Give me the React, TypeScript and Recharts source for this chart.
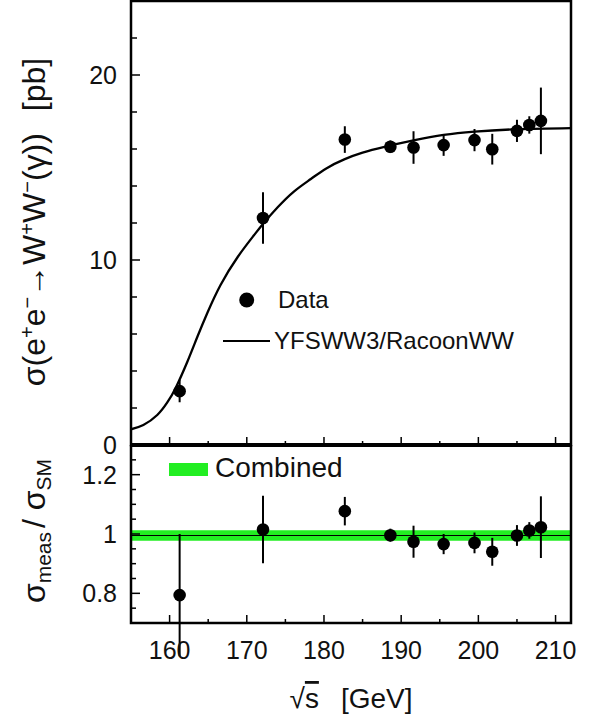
import React from "react";
import {
  ComposedChart,
  Line,
  Scatter,
  ErrorBar,
  XAxis,
  YAxis,
  ReferenceArea,
  ReferenceLine,
} from "recharts";

// measured points: sqrt(s) [GeV], sigma [pb], ratio to SM
const energies = [161.3, 172.1, 182.7, 188.6, 191.6, 195.5, 199.5, 201.8, 205.0, 206.6, 208.1];
const sigmaMeas = [2.91, 12.27, 16.51, 16.12, 16.08, 16.21, 16.48, 15.99, 16.98, 17.3, 17.52];
const sigmaErr = [0.6, 1.39, 0.72, 0.34, 0.88, 0.58, 0.6, 0.83, 0.6, 0.47, 1.8];
const ratioMeas = [0.794, 1.015, 1.077, 0.996, 0.974, 0.966, 0.97, 0.94, 0.995, 1.012, 1.023];
const ratioErr = [0.206, 0.114, 0.048, 0.022, 0.054, 0.034, 0.035, 0.047, 0.035, 0.028, 0.104];

// YFSWW3 / RacoonWW prediction
const curveEnergy = [155, 156.6, 158.4, 159.7, 160.8, 162.3, 163.6, 164.9, 166.6, 168.8, 170.9, 172.2, 174.0, 176.1, 178.3, 180.3, 182.7, 185.0, 187.7, 191.6, 195.5, 199.5, 205.0, 212];
const curveSigma = [0.85, 1.08, 1.62, 2.3, 3.1, 4.5, 5.85, 7.15, 8.65, 10.15, 11.32, 12.0, 12.85, 13.7, 14.38, 14.95, 15.45, 15.8, 16.1, 16.46, 16.76, 16.94, 17.07, 17.13];

// combined ratio band
const combined = 0.995;
const combinedErr = 0.018;

const xDomain: [number, number] = [155, 212];
const upperDomain: [number, number] = [0, 24];
const lowerDomain: [number, number] = [0.7, 1.3];
const xTicks = [155, 160, 165, 170, 175, 180, 185, 190, 195, 200, 205, 210];
const upperTicks = [0, 2, 4, 6, 8, 10, 12, 14, 16, 18, 20, 22];
const lowerTicks = [0.75, 0.8, 0.85, 0.9, 0.95, 1.0, 1.05, 1.1, 1.15, 1.2, 1.25];
const lowerLabels = [0.8, 1.0, 1.2];

const FONT = "'Liberation Sans', Arial, Helvetica, sans-serif";
const INK = "#111";

const upperPoints = energies.map((x, i) => ({ x, y: sigmaMeas[i], err: sigmaErr[i] }));
const lowerPoints = energies.map((x, i) => ({ x, y: ratioMeas[i], err: ratioErr[i] }));
const curve = curveEnergy.map((x, i) => ({ x, y: curveSigma[i] }));

const dot = (p: any) => <circle cx={p.cx} cy={p.cy} r={6.3} fill="#000" />;

function UpperXTick({ x, y, payload }: any) {
  const major = payload.value % 10 === 0;
  return <line x1={x} x2={x} y1={y} y2={y - (major ? 8 : 4)} stroke="#000" strokeWidth={1.5} />;
}

function LowerXTick({ x, y, payload }: any) {
  const major = payload.value % 10 === 0;
  return (
    <g>
      <line x1={x} x2={x} y1={y} y2={y - (major ? 8 : 4)} stroke="#000" strokeWidth={1.5} />
      {major && (
        <text x={x} y={y + 36} textAnchor="middle" fontSize={25} fontFamily={FONT} fill={INK}>
          {payload.value}
        </text>
      )}
    </g>
  );
}

function UpperYTick({ x, y, payload }: any) {
  const major = payload.value % 10 === 0;
  return (
    <g>
      <line x1={x} x2={x + (major ? 9 : 6)} y1={y} y2={y} stroke="#000" strokeWidth={1.5} />
      {major && (
        <text x={x - 14} y={y + 9} textAnchor="end" fontSize={25} fontFamily={FONT} fill={INK}>
          {payload.value}
        </text>
      )}
    </g>
  );
}

function LowerYTick({ x, y, payload }: any) {
  const major = lowerLabels.some((v) => Math.abs(v - payload.value) < 1e-6);
  return (
    <g>
      <line x1={x} x2={x + (major ? 9 : 5)} y1={y} y2={y} stroke="#000" strokeWidth={1.5} />
      {major && (
        <text x={x - 14} y={y + 9} textAnchor="end" fontSize={25} fontFamily={FONT} fill={INK}>
          {Number(payload.value.toFixed(2)).toString()}
        </text>
      )}
    </g>
  );
}

export default function App() {
  return (
    <div
      style={{
        position: "absolute",
        left: 0,
        top: 0,
        width: 603,
        height: 715,
        background: "#fff",
        fontFamily: FONT,
      }}
    >
      {/* cross section */}
      <div style={{ position: "absolute", left: 0, top: 0 }}>
        <ComposedChart width={603} height={460} margin={{ top: 1, right: 32, bottom: 14, left: 0 }}>
          <XAxis
            dataKey="x"
            type="number"
            domain={xDomain}
            ticks={xTicks}
            interval={0}
            allowDataOverflow
            height={1}
            tickSize={0}
            tickMargin={0}
            axisLine={{ stroke: "#000", strokeWidth: 4 }}
            tick={(p: any) => <UpperXTick {...p} />}
          />
          <YAxis
            type="number"
            domain={upperDomain}
            ticks={upperTicks}
            interval={0}
            allowDataOverflow
            width={131}
            tickSize={0}
            tickMargin={0}
            axisLine={false}
            tick={(p: any) => <UpperYTick {...p} />}
          />
          <ReferenceArea
            x1={xDomain[0]}
            x2={xDomain[1]}
            y1={upperDomain[0]}
            y2={upperDomain[1]}
            fill="none"
            stroke="#000"
            strokeWidth={2.5}
          />
          <Line
            data={curve}
            dataKey="y"
            type="natural"
            dot={false}
            stroke="#000"
            strokeWidth={2.3}
            isAnimationActive={false}
          />
          <Scatter data={upperPoints} dataKey="y" shape={dot} isAnimationActive={false}>
            <ErrorBar dataKey="err" direction="y" width={0} stroke="#000" strokeWidth={2} isAnimationActive={false} />
          </Scatter>
        </ComposedChart>
      </div>

      {/* ratio */}
      <div style={{ position: "absolute", left: 0, top: 445 }}>
        <ComposedChart width={603} height={270} margin={{ top: 0, right: 32, bottom: 0, left: 0 }}>
          <XAxis
            dataKey="x"
            type="number"
            domain={xDomain}
            ticks={xTicks}
            interval={0}
            allowDataOverflow
            height={92}
            tickSize={0}
            tickMargin={0}
            axisLine={false}
            tick={(p: any) => <LowerXTick {...p} />}
          />
          <YAxis
            type="number"
            domain={lowerDomain}
            ticks={lowerTicks}
            interval={0}
            allowDataOverflow
            width={131}
            tickSize={0}
            tickMargin={0}
            axisLine={false}
            tick={(p: any) => <LowerYTick {...p} />}
          />
          <ReferenceArea
            x1={xDomain[0]}
            x2={xDomain[1]}
            y1={combined - combinedErr}
            y2={combined + combinedErr}
            fill="#22ee22"
            fillOpacity={1}
            stroke="none"
          />
          <ReferenceLine y={combined} stroke="#000" strokeWidth={1.2} />
          <ReferenceArea
            x1={xDomain[0]}
            x2={xDomain[1]}
            y1={lowerDomain[0]}
            y2={lowerDomain[1]}
            fill="none"
            stroke="#000"
            strokeWidth={2.5}
          />
          <Scatter data={lowerPoints} dataKey="y" shape={dot} isAnimationActive={false}>
            <ErrorBar dataKey="err" direction="y" width={0} stroke="#000" strokeWidth={2} isAnimationActive={false} />
          </Scatter>
        </ComposedChart>
      </div>

      {/* titles and legends */}
      <svg
        width={603}
        height={715}
        style={{ position: "absolute", left: 0, top: 0, pointerEvents: "none" }}
        fontFamily={FONT}
        fill={INK}
      >
        <text transform="rotate(-90)" x={-222} y={45} textAnchor="middle" fontSize={32}>
          σ(e<tspan fontSize={20} baselineShift="55%">+</tspan>e<tspan fontSize={20} baselineShift="55%">−</tspan>→W
          <tspan fontSize={20} baselineShift="55%">+</tspan>W<tspan fontSize={20} baselineShift="55%">−</tspan>(γ))
          <tspan dx={22}>[pb]</tspan>
        </text>
        <text transform="rotate(-90)" x={-531} y={45} textAnchor="middle" fontSize={32}>
          σ<tspan fontSize={21} baselineShift="-30%">meas</tspan>
          <tspan dx={4}>/ σ</tspan>
          <tspan fontSize={21} baselineShift="-30%">SM</tspan>
        </text>
        <text x={351} y={708} textAnchor="middle" fontSize={28}>
          √<tspan textDecoration="overline">s</tspan>
          <tspan dx={22}>[GeV]</tspan>
        </text>

        <circle cx={246.7} cy={300} r={7.5} fill="#000" />
        <text x={278} y={308} fontSize={24}>Data</text>
        <line x1={223} x2={270} y1={341} y2={341} stroke="#000" strokeWidth={2} />
        <text x={274} y={349} fontSize={24}>YFSWW3/RacoonWW</text>

        <rect x={169} y={463} width={39} height={13} fill="#22ee22" />
        <text x={215} y={477} fontSize={28}>Combined</text>
      </svg>
    </div>
  );
}
